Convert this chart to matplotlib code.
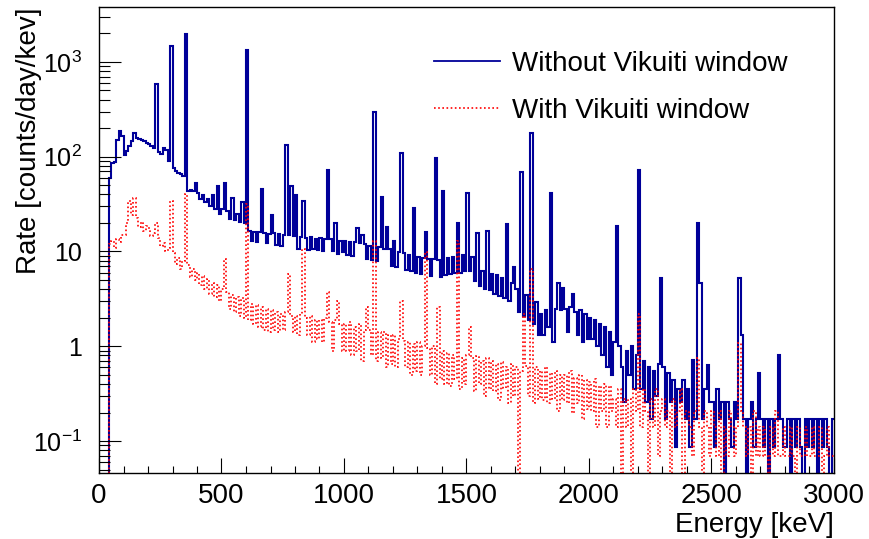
import numpy as np
import matplotlib
matplotlib.use("Agg")
import matplotlib.pyplot as plt
from matplotlib.lines import Line2D
from matplotlib.ticker import MultipleLocator, LogLocator, NullFormatter

plt.rcParams['font.family'] = ['Liberation Sans', 'DejaVu Sans']
plt.rcParams['mathtext.fontset'] = 'custom'
plt.rcParams['mathtext.rm'] = 'Liberation Sans'
plt.rcParams['mathtext.it'] = 'Liberation Sans:italic'

bin_width = 10      # keV
energy_max = 3000   # keV

# continuum, counts/day/keV, one row = 100 keV
blue_cont = [
    0, 0, 0, 0, 60, 85, 88, 92, 95, 97,
    105, 116, 130, 146, 162, 157, 153, 150, 146, 141,
    137, 131, 125, 119, 113, 108, 105, 99, 90, 82,
    76, 71, 67, 65, 63, 62, 44, 45, 43, 42,
    41, 36, 39, 33, 36, 30, 33, 28, 30, 25,
    28, 23, 26.5, 22, 25, 21.5, 25, 20.5, 24.5, 20,
    22, 16.5, 12.8, 16, 12.5, 16.2, 12.6, 15.8, 12.2, 15.4,
    12.4, 15.8, 11.8, 15.2, 11.5, 15, 11.4, 14.8, 11.2, 14.6,
    14.4, 10.6, 14.2, 10.8, 14, 10.4, 14.2, 10.6, 13.7, 10.3,
    13.9, 10.1, 13.6, 9.7, 13.5, 10, 13.3, 9.5, 13, 9.8,
    12.9, 9.2, 12.7, 8.9, 12.5, 8.7, 12.3, 8.5, 11.9, 8.4,
    11.5, 8.1, 11.3, 7.9, 11.1, 7.6, 10.7, 7.3, 10.5, 7.1,
    10, 6.8, 9.8, 6.6, 9.6, 6.4, 9.2, 6.2, 9, 6,
    8.7, 5.8, 8.5, 5.7, 8.4, 5.5, 8.3, 5.6, 8.1, 5.4,
    8.5, 5.6, 8.6, 5.8, 8.7, 5.9, 8.9, 6, 9.1, 6.2,
    9.2, 6.3, 8.8, 4.9, 6.6, 4.3, 6.3, 4, 6, 3.9,
    5.8, 3.6, 5.6, 3.4, 5.3, 3.2, 5, 3, 4.7, 2.7,
    4, 2.3, 3.8, 2.1, 3.5, 1.9, 3.4, 1.7, 2.9, 1.3,
    2.2, 1.3, 2.4, 1.6, 2.6, 1.1, 2.5, 1.5, 2.4, 1.2,
    2.5, 1.4, 2.6, 0.9, 2.3, 1.3, 2.4, 1.1, 2.2, 1.2,
    2.0, 1.2, 1.9, 1.0, 1.7, 0.8, 1.6, 0.6, 1.4, 0.5,
    1.1, 0.45, 1.0, 0.6, 0.26, 0.9, 0.5, 1.0, 0.35, 0.8,
    0.9, 0.35, 0.7, 0.26, 0.6, 0.17, 0.55, 0.3, 0.65, 0.26,
    0.6, 0.17, 0.52, 0.26, 0.44, 0.087, 0.35, 0.26, 0.44, 0.17,
    0.35, 0.087, 0.44, 0.17, 0.35, 0.26, 0.17, 0.35, 0, 0.26,
    0.26, 0.087, 0.35, 0.17, 0.26, 0, 0.26, 0.17, 0.087, 0.26,
    0.17, 0.26, 0.087, 0.17, 0, 0.17, 0.26, 0.087, 0.17, 0.17,
    0.17, 0.087, 0.17, 0, 0.17, 0.087, 0.17, 0.087, 0.17, 0.087,
    0.087, 0.17, 0, 0.17, 0.087, 0.17, 0.087, 0, 0.17, 0.087,
    0.17, 0.087, 0.17, 0, 0.17, 0.087, 0.17, 0.087, 0, 0.17,
]

red_cont = [
    0, 0, 0, 0, 12, 13, 11, 13.5, 12.5, 15,
    15, 20, 18.5, 24, 19.5, 22.5, 18, 20.5, 16.5, 18.5,
    17.5, 14.5, 15.8, 13, 14, 11.4, 12.4, 10, 11, 9,
    9.6, 7.4, 8.6, 6.6, 8, 6, 7.2, 5.4, 6.6, 5,
    6, 4.4, 5.5, 4, 5.1, 3.6, 4.7, 3.3, 4.4, 3,
    4, 2.8, 3.7, 2.5, 3.5, 2.3, 3.3, 2.1, 3.2, 2,
    2.9, 1.9, 2.8, 1.7, 2.7, 1.6, 2.6, 1.5, 2.5, 1.4,
    2.4, 1.5, 2.3, 1.4, 2.2, 1.5, 2.3, 1.3, 2.1, 1.4,
    2.1, 1.3, 2.2, 1.2, 2.0, 1.3, 2.1, 1.1, 1.9, 1.2,
    1.9, 1.1, 2.0, 1.0, 1.8, 0.9, 1.9, 1.0, 1.7, 0.9,
    1.7, 0.9, 1.8, 0.8, 1.6, 0.9, 1.7, 0.7, 1.5, 0.8,
    1.5, 0.8, 1.6, 0.7, 1.4, 0.75, 1.4, 0.6, 1.3, 0.65,
    1.3, 0.6, 1.2, 0.55, 1.15, 0.6, 1.1, 0.5, 1.05, 0.55,
    1.1, 0.5, 1.0, 0.45, 0.95, 0.5, 1.0, 0.4, 0.9, 0.45,
    0.9, 0.4, 0.85, 0.38, 0.8, 0.45, 0.85, 0.35, 0.75, 0.4,
    0.8, 0.38, 0.75, 0.34, 0.78, 0.4, 0.7, 0.3, 0.75, 0.35,
    0.7, 0.34, 0.65, 0.27, 0.68, 0.36, 0.6, 0.25, 0.65, 0.3,
    0.6, 0, 0.55, 0.27, 0.62, 0.3, 0.55, 0.25, 0.6, 0.28,
    0.55, 0.27, 0.6, 0.25, 0.52, 0.28, 0.55, 0.21, 0.5, 0.27,
    0.5, 0.25, 0.55, 0.2, 0.46, 0.25, 0.5, 0.17, 0.44, 0.22,
    0.42, 0.21, 0.45, 0.14, 0.38, 0.21, 0.4, 0.14, 0.38, 0.21,
    0.28, 0.14, 0.35, 0, 0.28, 0.14, 0.28, 0, 0.35, 0.21,
    0.28, 0.14, 0.35, 0.21, 0, 0.28, 0.14, 0.35, 0.07, 0.21,
    0.28, 0.14, 0.21, 0, 0.28, 0.14, 0.21, 0.35, 0, 0.21,
    0.21, 0.14, 0.07, 0.21, 0.28, 0.14, 0, 0.21, 0.14, 0.07,
    0.21, 0.14, 0.07, 0.21, 0, 0.14, 0.07, 0.21, 0.14, 0.07,
    0.14, 0.07, 0.21, 0.14, 0.07, 0.14, 0, 0.21, 0.07, 0.14,
    0.07, 0.14, 0.07, 0, 0.14, 0.07, 0.21, 0.07, 0.07, 0.14,
    0.07, 0.07, 0.14, 0.07, 0, 0.14, 0.07, 0.07, 0.14, 0.07,
    0.07, 0.14, 0.07, 0.07, 0.14, 0, 0.07, 0.14, 0.07, 0.07,
]

# gamma lines on top of the continuum (keV, counts/day/keV)
blue_peak_e = [72, 80, 92, 146, 238, 262, 274, 295, 352, 395, 465, 482, 514,
               543, 584, 609, 665, 703, 768, 786, 806, 839, 934, 966, 1054,
               1073, 1120, 1155, 1176, 1207, 1238, 1281, 1334, 1377, 1408,
               1463, 1509, 1543, 1583, 1661, 1692, 1729, 1764, 1847, 1873,
               1896, 1936, 2118, 2204, 2293, 2423, 2448, 2452, 2482, 2614,
               2622, 2694, 2771]
blue_peak_h = [150, 185, 165, 180, 580, 125, 118, 1470, 1970, 53, 39, 49, 53,
               37, 33, 1350, 46, 24, 134, 49, 39, 34, 72, 20, 17.5,
               15, 300, 38, 18, 13, 110, 29, 16, 98, 43,
               20, 41, 15.5, 16.6, 19.3, 6.8, 69, 179, 41, 4.7,
               4.1, 3.6, 18.8, 72, 5.3, 0.71, 20, 4.6, 0.63, 5.3,
               1.3, 0.52, 0.8]

red_peak_e = [127, 146, 238, 295, 352, 510, 609, 772, 835, 934, 970, 1090,
              1120, 1238, 1333, 1380, 1460, 1510, 1731, 1764, 2204, 2448, 2614]
red_peak_h = [34, 37, 20, 34, 40, 8.4, 32, 5.8, 10.7, 3.7, 3.0, 2.6,
              13, 3.0, 9.8, 2.6, 13, 1.6, 2.2, 6.6, 2.2, 0.75, 1.07]

y_ticks = [0.1, 1, 10, 100, 1000]
y_tick_labels = [r'$\mathregular{10^{-1}}$', '1', '10',
                 r'$\mathregular{10^{2}}$', r'$\mathregular{10^{3}}$']

blue_label = 'Without Vikuiti window'
red_label = 'With Vikuiti window'
blue_color = '#000099'
red_color = '#ff0000'


def spectrum(cont, peak_e, peak_h):
    v = np.array(cont, dtype=float)
    idx = np.array(peak_e) // bin_width
    v[idx] = np.maximum(v[idx], peak_h)
    # empty bins drop below the axis like in ROOT
    return np.where(v > 0, v, 1e-3)


edges = np.arange(0, energy_max + bin_width, bin_width)
blue = spectrum(blue_cont, blue_peak_e, blue_peak_h)
red = spectrum(red_cont, red_peak_e, red_peak_h)

fig = plt.figure(figsize=(8.69, 5.39), dpi=100)
ax = fig.add_axes([99 / 869, 1 - 473 / 539, 735 / 869, 466 / 539])

ax.stairs(blue, edges, baseline=None, color=blue_color, lw=1.5)
ax.stairs(red, edges, baseline=None, color=red_color, lw=1.2,
          linestyle=(0, (1, 1.5)))

ax.set_yscale('log')
ax.set_xlim(0, energy_max)
ax.set_ylim(0.046, 3800)

ax.xaxis.set_major_locator(MultipleLocator(500))
ax.xaxis.set_minor_locator(MultipleLocator(100))
ax.set_yticks(y_ticks, y_tick_labels)
ax.yaxis.set_minor_locator(LogLocator(base=10, subs=np.arange(2, 10)))
ax.yaxis.set_minor_formatter(NullFormatter())

ax.tick_params(which='both', direction='in', top=False, right=False,
               width=0.8)
ax.tick_params(axis='x', which='major', length=10.8, pad=7, labelsize=20)
ax.tick_params(axis='x', which='minor', length=5.4)
ax.tick_params(axis='y', which='major', length=15.8, pad=12, labelsize=18)
ax.tick_params(axis='y', which='minor', length=8)
for s in ax.spines.values():
    s.set_linewidth(1.0)

ax.set_xlabel('Energy [keV]', fontsize=20, loc='right', labelpad=2)
ax.set_ylabel('Rate [counts/day/kev]', fontsize=20, loc='top')
ax.yaxis.set_label_coords(-0.0776, 1.0)

handles = [Line2D([], [], color=blue_color, lw=1.3),
           Line2D([], [], color=red_color, lw=1.2, linestyle=(0, (1, 1.5)))]
fig.legend(handles, [blue_label, red_label], loc='upper left',
           bbox_to_anchor=(434 / 869, 1 - 51 / 539), frameon=False,
           fontsize=20, handlelength=2.36, handletextpad=0.43,
           borderpad=0, borderaxespad=0, labelspacing=0.74)

fig.savefig('out.png', dpi=100)
